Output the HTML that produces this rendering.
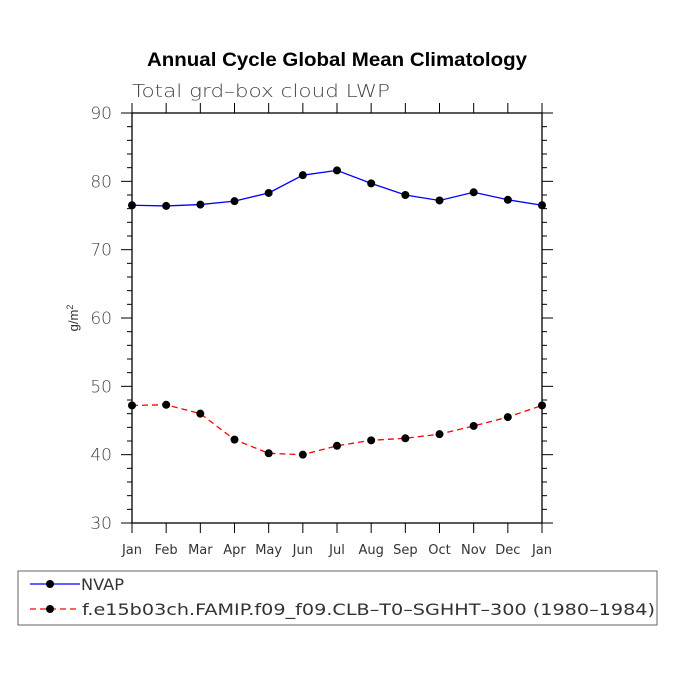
<!DOCTYPE html>
<html><head><meta charset="utf-8"><style>body{margin:0;background:#fff}svg{display:block}</style></head>
<body>
<svg id="c" width="675" height="675" xmlns="http://www.w3.org/2000/svg" font-family="Liberation Sans, sans-serif">
<text x="147" y="66" textLength="380" lengthAdjust="spacingAndGlyphs" font-size="19" font-weight="bold">Annual Cycle Global Mean Climatology</text>
<text x="132" y="97" textLength="258" lengthAdjust="spacingAndGlyphs" font-size="18" fill="#444" font-family="DejaVu Sans, sans-serif" font-weight="200">Total grd–box cloud LWP</text>
<text transform="translate(78,318) rotate(-90)" text-anchor="middle" font-size="13" fill="#333">g/m<tspan dy="-5" font-size="9">2</tspan></text>
<g id="axes"></g>
<g id="marks"></g>
<g>
<rect x="18" y="571" width="639" height="54" fill="none" stroke="#666" stroke-width="1"/>
<line x1="30" y1="584" x2="80" y2="584" stroke="#00f" stroke-width="1.3"/><circle cx="50" cy="584" r="4" fill="#000"/>
<text x="81" y="590" textLength="43" lengthAdjust="spacingAndGlyphs" font-size="16" fill="#333" font-family="DejaVu Sans, sans-serif">NVAP</text>
<line x1="30" y1="609" x2="80" y2="609" stroke="#f00" stroke-width="1.3" stroke-dasharray="6,4"/><circle cx="50" cy="609" r="4" fill="#000"/>
<text x="82" y="615" textLength="573" lengthAdjust="spacingAndGlyphs" font-size="16" fill="#333" font-family="DejaVu Sans, sans-serif">f.e15b03ch.FAMIP.f09_f09.CLB–T0–SGHHT–300 (1980–1984)</text>
</g>
</svg>
<script>
const months=["Jan","Feb","Mar","Apr","May","Jun","Jul","Aug","Sep","Oct","Nov","Dec","Jan"];
const nvap=[76.5,76.4,76.6,77.1,78.3,80.9,81.6,79.7,78.0,77.2,78.4,77.3,76.5];
const model=[47.2,47.3,46.0,42.2,40.2,40.0,41.3,42.1,42.4,43.0,44.2,45.5,47.2];
const yTicks=[30,40,50,60,70,80,90];
const L=132,R=542,T=113,B=523,ymin=30,ymax=90;
const NS="http://www.w3.org/2000/svg";
const sx=i=>L+(R-L)*i/(months.length-1);
const sy=v=>B-(v-ymin)/(ymax-ymin)*(B-T);
function mk(t,a,p){const e=document.createElementNS(NS,t);for(const k in a)e.setAttribute(k,a[k]);p.appendChild(e);return e;}
const ax=document.getElementById('axes'),mg=document.getElementById('marks');
const fr=mk('rect',{x:L,y:T,width:R-L,height:B-T,fill:'none',stroke:'#000','stroke-width':1.3},ax);


months.forEach((m,i)=>{const x=sx(i);
mk('line',{x1:x,y1:B,x2:x,y2:B+10,stroke:'#000'},ax);
mk('line',{x1:x,y1:T,x2:x,y2:T-10,stroke:'#000'},ax);
const t=mk('text',{x:x,y:B+31,'text-anchor':'middle','font-size':13,fill:'#333','font-family':'DejaVu Sans, sans-serif'},ax);t.textContent=m;

});
for(let v=ymin;v<=ymax;v+=2){const y=sy(v);const maj=yTicks.includes(v);const len=maj?11:5;
mk('line',{x1:L-len,y1:y,x2:L,y2:y,stroke:'#000'},ax);
mk('line',{x1:R,y1:y,x2:R+len,y2:y,stroke:'#000'},ax);}
yTicks.forEach(v=>{const t=mk('text',{x:112,y:sy(v)+6,'text-anchor':'end','font-size':17,fill:'#444','font-family':'DejaVu Sans, sans-serif','font-weight':'200'},ax);t.textContent=v;

});
function series(vals,color,dash,name){
const pl=mk('polyline',{points:vals.map((v,i)=>sx(i)+','+sy(v)).join(' '),fill:'none',stroke:color,'stroke-width':1.3,'stroke-dasharray':dash},mg);


vals.forEach((v,i)=>{const c=mk('circle',{cx:sx(i),cy:sy(v),r:4,fill:'#000'},mg);

});}
series(nvap,'#00f','none','nvap');
series(model,'#f00','6,4','model');
</script>
</body></html>
